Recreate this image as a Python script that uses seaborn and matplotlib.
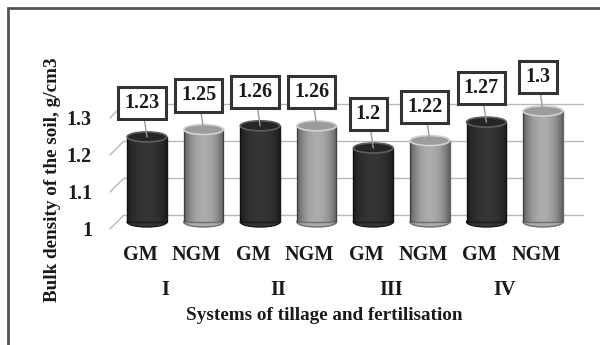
import numpy as np
import pandas as pd
import seaborn as sns
import matplotlib
matplotlib.use("Agg")
import matplotlib.pyplot as plt
from matplotlib.patches import Ellipse, Rectangle
from matplotlib.transforms import ScaledTranslation

# Bulk density by tillage system and fertilisation
systems = ["I", "I", "II", "II", "III", "III", "IV", "IV"]
fertilisation = ["GM", "NGM", "GM", "NGM", "GM", "NGM", "GM", "NGM"]
density = [1.23, 1.25, 1.26, 1.26, 1.20, 1.22, 1.27, 1.30]
system_labels = ["I", "II", "III", "IV"]
y_ticks = [1.0, 1.1, 1.2, 1.3]
y_tick_labels = ["1", "1.1", "1.2", "1.3"]
base = 1.0

df = pd.DataFrame({
    "bar": [f"{f} {s}" for f, s in zip(fertilisation, systems)],
    "system": systems,
    "fert": fertilisation,
    "density": density,
})

sns.set_theme(style="white")
plt.rcParams["font.family"] = ["Liberation Serif", "DejaVu Serif"]
plt.rcParams["font.weight"] = "bold"

DPI = 100
LABEL_FS = 14.5
fig = plt.figure(figsize=(6.0, 3.45), dpi=DPI)
fig.patch.set_facecolor("white")
ax = fig.add_axes([101.7 / 600, (345 - 244.2) / 345, 486.5 / 600, 192.4 / 345])
ax.set_facecolor("none")

body = {"GM": "#353535", "NGM": "#ababab"}
edge = {"GM": "#181818", "NGM": "#6e6e6e"}
cap = {"GM": "#262626", "NGM": "#9c9c9c"}
rim = {"GM": "#5e5e5e", "NGM": "#d2d2d2"}

sns.barplot(data=df, x="bar", y="density", hue="fert", palette=body,
            dodge=False, width=0.7, legend=False, ax=ax,
            edgecolor="none", linewidth=0, zorder=3)

XLIM = (-0.8, 7.8)
YLIM = (0.94, 1.46)
ax.set_xlim(*XLIM)
ax.set_ylim(*YLIM)


def px(dx, dy):
    return ScaledTranslation(dx / DPI, dy / DPI, fig.dpi_scale_trans)


front = ax.transData + px(-7, -7)
back = ax.transData + px(7, 7)

ell_h = 10 / 370
bars = sorted(list(ax.patches), key=lambda p: p.get_x())
# cylinders: bars start at the base value, with elliptical bottom and top
for patch, f, v in zip(bars, fertilisation, density):
    x0 = patch.get_x()
    w = patch.get_width()
    xc = x0 + w / 2
    patch.set_y(base)
    patch.set_height(v - base)
    patch.set_edgecolor(edge[f])
    patch.set_linewidth(1.0)
    ax.add_patch(Ellipse((xc, base), w, ell_h, facecolor=body[f],
                         edgecolor=edge[f], lw=1.0, zorder=2.9))
    # horizontal shading across the cylinder body
    t = np.linspace(-1, 1, 200)
    shade = np.zeros((1, 200, 4))
    shade[..., 3] = 0.45 * np.abs(t) ** 2.2
    im = ax.imshow(shade, extent=[x0, x0 + w, base, v], aspect="auto",
                   interpolation="bilinear", zorder=3.5)
    im.set_clip_path(patch)
    ax.add_patch(Ellipse((xc, v), w, ell_h, facecolor=cap[f],
                         edgecolor=rim[f], lw=1.2, zorder=4))
    ax.annotate(f"{v:g}", xy=(xc, v), xytext=(-5, 34),
                textcoords="offset pixels", ha="center", va="center",
                fontsize=LABEL_FS, fontweight="bold", color="#1a1a1a", zorder=6,
                bbox=dict(boxstyle="square,pad=0.3", fc="white",
                          ec="#333333", lw=2.2),
                arrowprops=dict(arrowstyle="-", color="#9a9a9a", lw=1.0,
                                shrinkA=0, shrinkB=0))

ax.set_xlim(*XLIM)
ax.set_ylim(*YLIM)

# back wall grid and the perspective ticks on the left
x_left, x_right = -0.53, 7.58
for v in y_ticks:
    ax.plot([x_left, x_right], [v, v], color="#b8b8b8", lw=1.0,
            transform=back, zorder=1, clip_on=False)
    p0 = fig.transFigure.inverted().transform(front.transform((x_left, v)))
    p1 = fig.transFigure.inverted().transform(back.transform((x_left, v)))
    ax.plot([p0[0], p1[0]], [p0[1], p1[1]], color="#b8b8b8", lw=1.0,
            transform=fig.transFigure, zorder=1, clip_on=False)

ax.set_yticks(y_ticks, y_tick_labels)
ax.set_xticks(range(len(fertilisation)), fertilisation)
ax.tick_params(axis="y", length=0, pad=2, labelsize=LABEL_FS, colors="#1a1a1a")
ax.tick_params(axis="x", length=0, pad=0, labelsize=LABEL_FS, colors="#1a1a1a")
for lab in ax.get_yticklabels():
    lab.set_transform(lab.get_transform() + px(-7, -7))
    lab.set_fontweight("bold")
for lab in ax.get_xticklabels():
    lab.set_transform(lab.get_transform() + px(-7, -1))
    lab.set_fontweight("bold")
ax.set_xlabel("")
ax.set_ylabel("")
for s in ax.spines.values():
    s.set_visible(False)

# tillage system labels under each pair
for i, name in enumerate(system_labels):
    ax.annotate(name, xy=(2 * i + 0.5, 345 - 290), xycoords=("data", "figure pixels"),
                xytext=(-10, 0), textcoords="offset pixels",
                ha="center", va="center", fontsize=LABEL_FS, fontweight="bold",
                color="#1a1a1a")

fig.text(324 / 600, 1 - 315 / 345, "Systems of tillage and fertilisation",
         ha="center", va="center", fontsize=13.8, fontweight="bold", color="#1a1a1a")
fig.text(53 / 600, 1 - 180 / 345, "Bulk density of the soil, g/cm3",
         ha="center", va="center", rotation=90, fontsize=13.8,
         fontweight="bold", color="#1a1a1a")

fig.add_artist(Rectangle((8 / 600, -0.1), 1.2, 1 - 8 / 345 + 0.1,
                         transform=fig.transFigure, fill=False,
                         edgecolor="#555555", lw=2.0))

fig.savefig("out.png", dpi=DPI, facecolor="white")
